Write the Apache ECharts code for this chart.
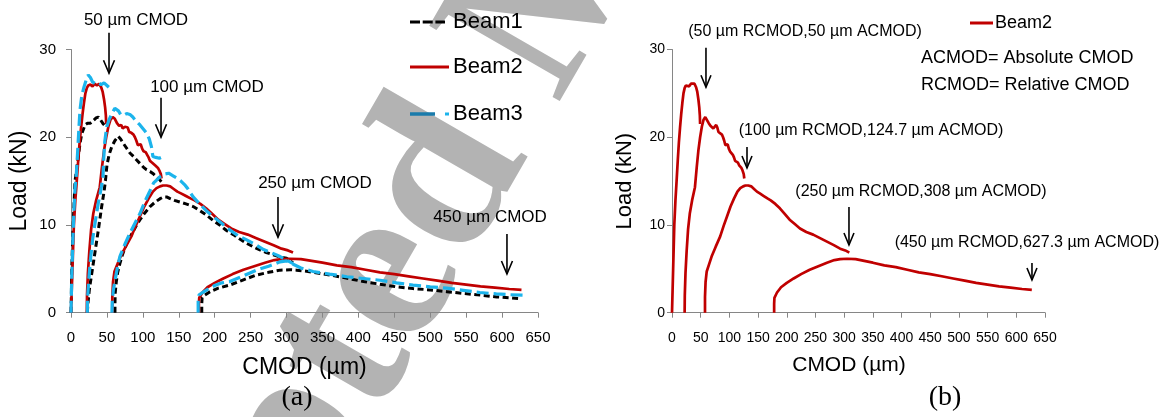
<!DOCTYPE html>
<html><head><meta charset="utf-8">
<script src="https://cdn.jsdelivr.net/npm/echarts@6/dist/echarts.min.js"></script>
<style>html,body{margin:0;padding:0;background:#fff}#c{width:1167px;height:417px}</style>
</head><body><div id="c"></div>
<script>
// ---------- DATA ----------
const xTickValues = [0,50,100,150,200,250,300,350,400,450,500,550,600,650];
const yTickValues = [0,10,20,30];
const seriesNames = ['Beam1','Beam2','Beam3'];

// Beam1 (black dashed), four loading cycles: [CMOD µm, load kN]
const beam1Cycle1 = [[0,0],[0.5,2],[1,5],[2,7.5],[3.5,11],[5.6,15],[8,16.5],[10,17.6],[12.5,19.3],[15,20.4],[19.5,21.4],[23,21.6],[27,21.6],[31,21.9],[35,22.2],[38,22.3],[41,22],[45,21.5],[49.5,21.1]];
const beam1Cycle2 = [[22.7,0],[23.5,1],[25.5,2.6],[28,4],[31,5.6],[34.5,7.5],[38,9.4],[42.7,12.1],[46,13.8],[48,15.1],[50,16.8],[53,18],[56.6,18.9],[61,19.6],[65.8,20.1],[69,19.8],[72.8,19.3],[77,18.8],[82,18.2],[87,17.8],[91.4,17.4],[96,17],[100.7,16.6],[105,16.3],[110,16.1],[115,15.8],[119,15.5],[123,15.2],[126,14.9],[128.5,14.6]];
const beam1Cycle3 = [[61.2,0],[61.2,1],[61.5,2.2],[63,3.5],[65,4.6],[68,5.6],[72,6.7],[77.5,7.9],[84,8.9],[90,9.8],[96,10.6],[103,11.4],[110,12.1],[117,12.6],[124,13],[129,13.2],[133,13.2],[138,13],[144,12.8],[152,12.6],[160,12.4],[170,12.1],[180,11.6],[189,11.1],[198,10.5],[207,10],[216,9.4],[226,8.9],[235,8.4],[244.5,7.9],[254,7.5],[263,7.15],[272,6.85],[281.6,6.6],[291,6.35],[300,6.2],[305,5.9],[309,5.7]];
const beam1Cycle4 = [[182,0],[182,1],[182.5,1.7],[186,2],[193.5,2.4],[205,2.8],[221,3.15],[240,3.75],[258.5,4.3],[275,4.6],[291,4.85],[305,4.9],[314,4.85],[330,4.7],[345,4.5],[360,4.3],[383,3.95],[407,3.55],[430,3.25],[453,2.95],[476,2.75],[500,2.6],[523,2.4],[546,2.2],[570,2.0],[592.5,1.8],[610,1.7],[625,1.6]];

// Beam2 (red solid)
const beam2Cycle1 = [[0,0],[1,2.5],[2,5],[3,7.5],[4,10],[6,12.8],[8,15],[10,17.3],[12,19.4],[14,21.1],[16,22.6],[18,23.9],[20,25],[22,25.6],[24,25.9],[27,26],[30,25.8],[33,26.1],[36,25.9],[39,26.1],[42,25.7],[44,25.2],[46,24.3],[47.5,23.4],[48.5,22.5],[49,21.5]];
const beam2Cycle2 = [[22,0],[22.3,2],[23.5,4.5],[25.5,7],[28,9.5],[31,11.3],[35,12.8],[40,14.3],[43,16.5],[46,18.5],[49,20],[52,21.2],[55,22],[58,22.3],[61,22.1],[64,21.6],[67,21.3],[70,21.4],[72,21],[75,21.2],[77,21.4],[79,21.1],[81,20.6],[84,20.5],[87,20.3],[89,20],[91,19.6],[93,19.1],[95,19],[97,19.2],[99,18.7],[101,18.4],[104,18.3],[106,18],[108,17.7],[110,17.3],[113,17.1],[115,17.1],[117,16.8],[119,16.6],[121,16.5],[123,16.2],[125,15.8],[126,15.3]];
const beam2Cycle3 = [[57.5,0],[57.5,1.8],[58.5,3.5],[60.5,4.7],[65,5.6],[69,6.4],[76,7.5],[84,8.7],[90,9.9],[96,11],[102,12.1],[108,13],[114,13.8],[119,14.2],[124,14.4],[128,14.5],[133,14.5],[138,14.4],[143,14.1],[148,13.8],[153,13.6],[160,13.3],[167,13],[172,12.8],[180,12.4],[188,11.9],[196,11.3],[205,10.6],[214,10.1],[223,9.6],[234,9.2],[246,8.9],[258,8.5],[270,8.1],[282,7.7],[293,7.3],[302,7.1],[309,6.85]];
const beam2Cycle4 = [[178,0],[178,1],[178.5,1.7],[183,2.3],[190,2.9],[200,3.4],[212,3.9],[225,4.4],[240,4.9],[255,5.3],[270,5.7],[283,6],[293,6.1],[305,6.15],[320,6.1],[335,5.9],[350,5.7],[370,5.4],[390,5.2],[410,4.9],[430,4.6],[450,4.4],[470,4.15],[490,3.9],[510,3.65],[530,3.4],[550,3.2],[570,3.0],[590,2.85],[610,2.7],[627,2.6]];

// Beam3 (light blue dashed)
const beam3Cycle1 = [[0,0],[1,4],[2.5,8],[4,11.5],[5.5,14],[7.5,15.9],[9,18],[11,21],[12.5,23.1],[15,24.7],[18,25.7],[21,26.5],[24,27.1],[27,26.8],[30,26.3],[34,26.1],[38,26.2],[42,26],[46,26.2],[50,25.9],[54,25.6]];
const beam3Cycle2 = [[22.7,0],[23,1.5],[24.5,3.5],[27,6],[30,8.3],[34,10.5],[38,12.5],[42,14.2],[44.5,15.5],[45.5,17.5],[47,19.5],[49.7,21.2],[53,22],[57,22.7],[61,23.3],[63.6,23.5],[66,23],[69,22.6],[73,22.5],[77.5,22.7],[82,22.6],[86,22.3],[91,21.8],[96,21.4],[100,21],[105,20.5],[109,19.8],[112,18.9],[114,17.8],[118,17.7],[123,17.6],[128.5,17.8]];
const beam3Cycle3 = [[57,0],[57.5,1.5],[59,2.6],[62,4],[65,5.3],[68,6.4],[75,7.8],[82,9.05],[89,10.2],[96,11.3],[103,12.7],[110,13.9],[115,14.8],[119,15.1],[124,15.5],[130,15.8],[136,15.9],[142,15.6],[148,15.3],[153,15],[158,14.6],[162,14.2],[170,13.2],[180,12.3],[190,11.5],[198,10.95],[208,10.3],[220,9.5],[232,8.8],[244.5,8.3],[256,7.8],[268,7.2],[280,6.8],[291,6.4],[300,6.0],[309,5.6]];
const beam3Cycle4 = [[177,0],[177,1.5],[178,2],[183,2.3],[189,2.6],[200,3.1],[210,3.4],[221,3.55],[240,4.2],[258,4.85],[275,5.3],[291,5.8],[300,5.9],[310,5.5],[320,5.1],[337,4.7],[360,4.4],[384,4.1],[407,3.9],[430,3.7],[453,3.4],[476,3.15],[500,2.95],[523,2.8],[546,2.55],[569,2.3],[592,2.15],[610,2.05],[629,2.0]];

// Annotations (data coordinates): label position, arrow x, arrow start y, arrow tip y
const notesA = [
  {text:'50 µm CMOD',  tx:90.5,  ty:33.3, ax:52.9,  ay0:31.9, ay1:27.3},
  {text:'100 µm CMOD', tx:189.3, ty:25.7, ax:125.3, ay0:24.5, ay1:20.0},
  {text:'250 µm CMOD', tx:339.6, ty:14.8, ax:288.1, ay0:13.2, ay1:8.6},
  {text:'450 µm CMOD', tx:583.2, ty:10.9, ax:606.8, ay0:8.97, ay1:4.41}
];
const notesB = [
  {text:'(50 µm RCMOD,50 µm ACMOD)',      tx:231.8, ty:32.0,  ax:59.2,  ay0:30.2,  ay1:25.7},
  {text:'(100 µm RCMOD,124.7 µm ACMOD)',  tx:346.8, ty:20.8,  ax:130.7, ay0:18.9,  ay1:16.5},
  {text:'(250 µm RCMOD,308 µm ACMOD)',    tx:433.9, ty:13.75, ax:308.4, ay0:12.05, ay1:7.72},
  {text:'(450 µm RCMOD,627.3 µm ACMOD)',  tx:618.6, ty:7.94,  ax:627.3, ay0:5.67,  ay1:3.73}
];
const defNotes = ['ACMOD= Absolute CMOD','RCMOD= Relative CMOD'];
const panelLabels = ['(a)','(b)'];
const watermarkText = 'Accepted Manuscript';

// ---------- CHART ----------
const FONT = '"Liberation Sans", Arial, sans-serif';
const SERIF = '"Liberation Serif", "Times New Roman", serif';
const chart = echarts.init(document.getElementById('c'), null, {renderer:'canvas'});

const styles = {
  Beam1: {color:'#000000', width:3, type:[6,3.5]},
  Beam2: {color:'#c00000', width:2.7, type:'solid'},
  Beam3: {color:'#1cb4ec', width:3.2, type:[12,5]}
};
function cycleSeries(cycles, name, gi) {
  return cycles.map(c => ({
    type:'line', name, xAxisIndex:gi, yAxisIndex:gi, data:c,
    symbol:'none', showSymbol:false, animation:false, clip:false,
    lineStyle:{color:styles[name].color, width:styles[name].width, type:styles[name].type, cap:'butt'},
    itemStyle:{color:styles[name].color}
  }));
}
const series = [
  ...cycleSeries([beam1Cycle1,beam1Cycle2,beam1Cycle3,beam1Cycle4],'Beam1',0),
  ...cycleSeries([beam2Cycle1,beam2Cycle2,beam2Cycle3,beam2Cycle4],'Beam2',0),
  ...cycleSeries([beam3Cycle1,beam3Cycle2,beam3Cycle3,beam3Cycle4],'Beam3',0),
  ...cycleSeries([beam2Cycle1,beam2Cycle2,beam2Cycle3,beam2Cycle4],'Beam2',1)
];

function xAxisCfg(gi, fs, nameFs, nameGap, pad) {
  return {type:'value', gridIndex:gi, min:xTickValues[0], max:xTickValues[xTickValues.length-1],
    interval:xTickValues[1]-xTickValues[0],
    name:'CMOD (µm)', nameLocation:'middle', nameGap,
    nameTextStyle:{fontFamily:FONT, fontSize:nameFs, color:'#000', padding:pad},
    axisLine:{show:true, lineStyle:{color:'#868686', width:1}},
    axisTick:{show:true, length:5, lineStyle:{color:'#868686'}},
    axisLabel:{fontFamily:FONT, fontSize:fs, color:'#000', margin:18},
    splitLine:{show:false}};
}
function yAxisCfg(gi, fs, nameFs, nameGap, margin) {
  return {type:'value', gridIndex:gi, min:yTickValues[0], max:yTickValues[yTickValues.length-1],
    interval:yTickValues[1]-yTickValues[0],
    name:'Load (kN)', nameLocation:'middle', nameGap, nameRotate:90,
    nameTextStyle:{fontFamily:FONT, fontSize:nameFs, color:'#000'},
    axisLine:{show:true, lineStyle:{color:'#868686', width:1}},
    axisTick:{show:true, length:5, lineStyle:{color:'#868686'}},
    axisLabel:{fontFamily:FONT, fontSize:fs, color:'#000', margin},
    splitLine:{show:false}};
}

chart.setOption({
  backgroundColor:'#ffffff',
  animation:false,
  grid:[
    {left:71, top:49.5, width:467, height:263.2},
    {left:672, top:49.5, width:373, height:263.2}
  ],
  xAxis:[xAxisCfg(0,15,23,43,[0,0,0,0]), xAxisCfg(1,14,21,42,[0,19,0,0])],
  yAxis:[yAxisCfg(0,15,23,40,15), yAxisCfg(1,14,22,36,7)],
  series
});

// ---------- annotations placed through the axes ----------
function noteGraphics(notes, gi, fs, headW, headL) {
  const out = [];
  notes.forEach(n => {
    const t = chart.convertToPixel({gridIndex:gi}, [n.tx, n.ty]);
    const a0 = chart.convertToPixel({gridIndex:gi}, [n.ax, n.ay0]);
    const a1 = chart.convertToPixel({gridIndex:gi}, [n.ax, n.ay1]);
    out.push({type:'text', x:t[0], y:t[1], z:100,
      style:{text:n.text, font:fs+'px '+FONT, fill:'#000', textAlign:'center', textVerticalAlign:'middle'}});
    out.push({type:'line', z:100, shape:{x1:a0[0], y1:a0[1], x2:a1[0], y2:a1[1]},
      style:{stroke:'#000', lineWidth:1.6}});
    out.push({type:'polyline', z:100, shape:{points:[[a1[0]-headW, a1[1]-headL],[a1[0], a1[1]],[a1[0]+headW, a1[1]-headL]]},
      style:{stroke:'#000', lineWidth:1.6, fill:null}});
  });
  return out;
}
function legendText(x, y, text, fs) {
  return {type:'text', x, y, z:100, style:{text, font:fs+'px '+FONT, fill:'#000', textAlign:'left', textVerticalAlign:'middle'}};
}
function legendLine(x1, x2, y, color, w, dash) {
  return {type:'line', z:100, shape:{x1, y1:y, x2, y2:y}, style:{stroke:color, lineWidth:w, lineDash:dash||null}};
}
const g = [];
// watermark (behind the chart)
g.push({type:'text', x:24, y:910, rotation:60*Math.PI/180, z:-10, silent:true,
  style:{text:watermarkText, font:'bold 230px '+SERIF, fill:'#b3b3b3', textAlign:'left', textVerticalAlign:'middle'}});
g.push(...noteGraphics(notesA,0,17,5.5,13));
g.push(...noteGraphics(notesB,1,16,5,12));
// legend (a)
g.push(legendLine(410, 445, 22, styles.Beam1.color, 3, [10,2.7]));
g.push(legendText(453, 22, seriesNames[0], 22));
g.push(legendLine(410, 449, 67, styles.Beam2.color, 3));
g.push(legendText(453, 67, seriesNames[1], 22));
g.push(legendLine(410, 435, 114, '#1a7bab', 3.5));
g.push(legendLine(445, 449, 114, styles.Beam3.color, 3));
g.push(legendText(453, 114, seriesNames[2], 22));
// legend (b)
g.push(legendLine(970, 993, 23, styles.Beam2.color, 3));
g.push(legendText(995, 23, seriesNames[1], 18));
g.push(legendText(921, 58, defNotes[0], 18));
g.push(legendText(921, 85, defNotes[1], 18));
g.push({type:'text', x:297, y:398, z:100, style:{text:panelLabels[0], font:'28px '+SERIF, fill:'#000', textAlign:'center', textVerticalAlign:'middle'}});
g.push({type:'text', x:945, y:398, z:100, style:{text:panelLabels[1], font:'28px '+SERIF, fill:'#000', textAlign:'center', textVerticalAlign:'middle'}});
chart.setOption({graphic:g});
</script></body></html>
